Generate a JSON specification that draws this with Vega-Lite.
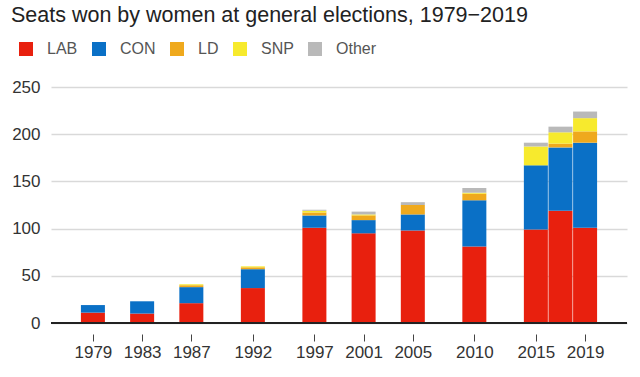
{
  "$schema": "https://vega.github.io/schema/vega-lite/v6.json",
  "autosize": {"type": "none"},
  "width": 576,
  "height": 236,
  "padding": {"left": 51, "top": 87, "right": 13, "bottom": 54},
  "background": "white",
  "config": {
    "font": "Liberation Sans",
    "view": {"stroke": null}
  },
  "title": {
    "text": "Seats won by women at general elections, 1979−2019",
    "anchor": "start",
    "frame": "group",
    "fontSize": 21.5,
    "fontWeight": "normal",
    "font": "Liberation Sans",
    "color": "#222222",
    "dx": -40,
    "offset": 15
  },
  "datasets": {
    "seats": [
      {"year": 1979, "party": "LAB", "seats": 11},
      {"year": 1979, "party": "CON", "seats": 8},
      {"year": 1983, "party": "LAB", "seats": 10},
      {"year": 1983, "party": "CON", "seats": 13},
      {"year": 1987, "party": "LAB", "seats": 21},
      {"year": 1987, "party": "CON", "seats": 17},
      {"year": 1987, "party": "LD", "seats": 2},
      {"year": 1987, "party": "SNP", "seats": 1},
      {"year": 1992, "party": "LAB", "seats": 37},
      {"year": 1992, "party": "CON", "seats": 20},
      {"year": 1992, "party": "LD", "seats": 2},
      {"year": 1992, "party": "SNP", "seats": 1},
      {"year": 1997, "party": "LAB", "seats": 101},
      {"year": 1997, "party": "CON", "seats": 13},
      {"year": 1997, "party": "LD", "seats": 3},
      {"year": 1997, "party": "SNP", "seats": 2},
      {"year": 1997, "party": "Other", "seats": 1},
      {"year": 2001, "party": "LAB", "seats": 95},
      {"year": 2001, "party": "CON", "seats": 14},
      {"year": 2001, "party": "LD", "seats": 5},
      {"year": 2001, "party": "SNP", "seats": 1},
      {"year": 2001, "party": "Other", "seats": 3},
      {"year": 2005, "party": "LAB", "seats": 98},
      {"year": 2005, "party": "CON", "seats": 17},
      {"year": 2005, "party": "LD", "seats": 10},
      {"year": 2005, "party": "Other", "seats": 3},
      {"year": 2010, "party": "LAB", "seats": 81},
      {"year": 2010, "party": "CON", "seats": 49},
      {"year": 2010, "party": "LD", "seats": 7},
      {"year": 2010, "party": "SNP", "seats": 1},
      {"year": 2010, "party": "Other", "seats": 5},
      {"year": 2015, "party": "LAB", "seats": 99},
      {"year": 2015, "party": "CON", "seats": 68},
      {"year": 2015, "party": "SNP", "seats": 20},
      {"year": 2015, "party": "Other", "seats": 4},
      {"year": 2017, "party": "LAB", "seats": 119},
      {"year": 2017, "party": "CON", "seats": 67},
      {"year": 2017, "party": "LD", "seats": 4},
      {"year": 2017, "party": "SNP", "seats": 12},
      {"year": 2017, "party": "Other", "seats": 6},
      {"year": 2019, "party": "LAB", "seats": 101},
      {"year": 2019, "party": "CON", "seats": 90},
      {"year": 2019, "party": "LD", "seats": 12},
      {"year": 2019, "party": "SNP", "seats": 14},
      {"year": 2019, "party": "Other", "seats": 7}
    ],
    "parties": [
      {"party": "LAB", "rank": 1},
      {"party": "CON", "rank": 2},
      {"party": "LD", "rank": 3},
      {"party": "SNP", "rank": 4},
      {"party": "Other", "rank": 5}
    ]
  },
  "layer": [
    {
      "data": {"name": "seats"},
      "transform": [
        {"lookup": "party", "from": {"data": {"name": "parties"}, "key": "party", "fields": ["rank"]}}
      ],
      "mark": {"type": "bar", "size": 24},
      "encoding": {
        "x": {
          "field": "year",
          "type": "quantitative",
          "scale": {"domain": [1976, 2022], "nice": false, "zero": false},
          "axis": {
            "title": null,
            "values": [1979, 1983, 1987, 1992, 1997, 2001, 2005, 2010, 2015, 2019],
            "format": "d",
            "grid": false,
            "domain": false,
            "offset": 11,
            "tickSize": 7,
            "tickColor": "#444444",
            "labelFontSize": 17,
            "labelColor": "#333333",
            "labelPadding": 3,
            "labelFlush": false,
            "labelOverlap": false
          }
        },
        "y": {
          "field": "seats",
          "type": "quantitative",
          "aggregate": "sum",
          "stack": "zero",
          "scale": {"domain": [0, 250], "nice": false},
          "axis": {
            "title": null,
            "values": [0, 50, 100, 150, 200, 250],
            "grid": true,
            "gridColor": "#d9d9d9",
            "gridWidth": 1.5,
            "domain": false,
            "ticks": false,
            "labelFontSize": 17,
            "labelColor": "#333333",
            "labelPadding": 11
          }
        },
        "color": {
          "field": "party",
          "type": "nominal",
          "scale": {
            "domain": ["LAB", "CON", "LD", "SNP", "Other"],
            "range": ["#E8200E", "#0A70C6", "#EFA91D", "#F7EA2D", "#B9B9B9"]
          },
          "legend": {
            "title": null,
            "orient": "none",
            "direction": "horizontal",
            "legendX": -33,
            "legendY": -46,
            "symbolType": "square",
            "symbolSize": 196,
            "symbolStrokeWidth": 0,
            "symbolOpacity": 1,
            "labelFontSize": 16,
            "labelColor": "#555555",
            "labelOffset": 13,
            "columnPadding": 13
          }
        },
        "order": {"field": "rank", "type": "quantitative", "sort": "ascending"}
      }
    },
    {
      "data": {"values": [{}]},
      "mark": {"type": "rule", "color": "#222222", "strokeWidth": 2},
      "encoding": {"y": {"datum": 0}}
    }
  ]
}
